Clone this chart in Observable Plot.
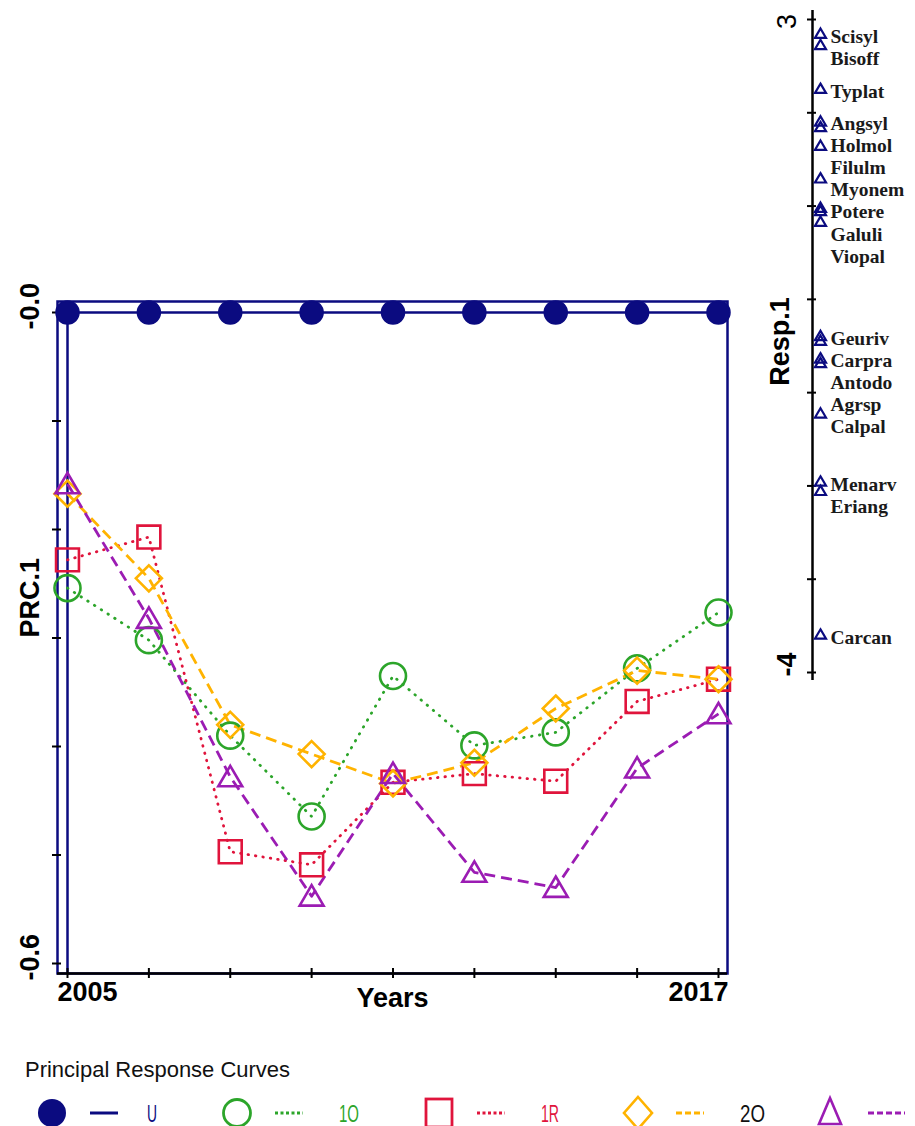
<!DOCTYPE html>
<html><head><meta charset="utf-8">
<script src="https://cdn.jsdelivr.net/npm/d3@7"></script>
<script src="https://cdn.jsdelivr.net/npm/@observablehq/plot@0.6"></script>
<style>
body{margin:0;background:#fff;}
#wrap{position:relative;width:915px;height:1126px;overflow:hidden;font-family:"Liberation Sans",Arial,sans-serif;background:#fff;}
#main{position:absolute;left:0;top:0}
#resp{position:absolute;left:740px;top:0}
#legend{position:absolute;left:0;top:1050px;width:915px;height:76px}
</style></head><body>
<div id="wrap"><div id="main"></div><div id="resp"></div><div id="legend"></div></div>
<script>
// ---------- data ----------
const years = [2005, 2006.5, 2008, 2009.5, 2011, 2012.5, 2014, 2015.5, 2017];
const seriesU  = [0, 0, 0, 0, 0, 0, 0, 0, 0];
const series1O = [-0.254, -0.302, -0.390, -0.4645, -0.335, -0.399, -0.387, -0.328, -0.2765];
const series1R = [-0.228, -0.207, -0.497, -0.509, -0.433, -0.425, -0.432, -0.3585, -0.338];
const series2O = [-0.167, -0.245, -0.380, -0.407, -0.434, -0.415, -0.365, -0.330, -0.338];
const series2R = [-0.158, -0.282, -0.428, -0.538, -0.425, -0.516, -0.530, -0.420, -0.370];
const seriesNames = ["U", "1O", "1R", "2O", "2R"];
const prcTicks = [0, -0.1, -0.2, -0.3, -0.4, -0.5, -0.6];
const prcTickLabels = ["-0.0", "-0.6"];
const yearLabels = ["2005", "2017"];

const speciesNames = ["Scisyl","Bisoff","Typlat","Angsyl","Holmol","Filulm","Myonem","Potere","Galuli","Viopal",
  "Geuriv","Carpra","Antodo","Agrsp","Calpal","Menarv","Eriang","Carcan"];
const speciesScores = [2.85, 2.73, 2.26, 1.91, 1.85, 1.65, 1.30, 0.985, 0.95, 0.835,
  -0.39, -0.44, -0.63, -0.68, -1.22, -1.95, -2.05, -3.59];
const respTicks = [3, 2, 1, 0, -1, -2, -3, -4];
const respTickLabels = ["3", "-4"];

// ---------- styles ----------
const NAVY = "#0b0b80";
const styles = {
  "U":  {color: NAVY,      dash: null,      label: NAVY},
  "1O": {color: "#2ca52a", dash: "0.5 7.5", label: "#2ca52a"},
  "1R": {color: "#e0143c", dash: "0.5 7",   label: "#e0143c"},
  "2O": {color: "#ffb300", dash: "11 6",    label: "#111"},
  "2R": {color: "#9b1cb3", dash: "11 6",    label: null}
};
const allValues = [seriesU, series1O, series1R, series2O, series2R];

function rad(size){ return Math.sqrt(size / Math.PI); }
const symCircle = {draw(ctx, size){ const r = rad(size); ctx.moveTo(r, 0); ctx.arc(0, 0, r, 0, 2*Math.PI); ctx.closePath(); }};
const symSquare = {draw(ctx, size){ const r = rad(size)*0.88; ctx.moveTo(-r,-r); ctx.lineTo(r,-r); ctx.lineTo(r,r); ctx.lineTo(-r,r); ctx.closePath(); }};
const symDiamond = {draw(ctx, size){ const r = rad(size); ctx.moveTo(0,-r); ctx.lineTo(r,0); ctx.lineTo(0,r); ctx.lineTo(-r,0); ctx.closePath(); }};
const symTriangle = {draw(ctx, size){ const r = rad(size); ctx.moveTo(0,-0.85*r); ctx.lineTo(0.92*r,0.72*r); ctx.lineTo(-0.92*r,0.72*r); ctx.closePath(); }};
const symbolsBySeries = {"U": symCircle, "1O": symCircle, "1R": symSquare, "2O": symDiamond, "2R": symTriangle};

const rows = seriesNames.map((name, k) => years.map((yr, i) => ({year: yr, value: allValues[k][i], series: name})));

const boldTxt = {fontFamily: "Liberation Sans, Arial, sans-serif", fontWeight: "bold", fontSize: 27, fill: "#000"};

const marks = [
  Plot.frame({stroke: NAVY, strokeWidth: 2.5}),
  Plot.ruleX([years[0]], {stroke: NAVY, strokeWidth: 2.5}),
  Plot.ruleY([prcTicks[prcTicks.length - 1]], {stroke: "#000", strokeWidth: 2.5, dy: 10}),
  Plot.axisY({ticks: prcTicks, tickSize: 9, dx: 4, tickFormat: () => "", label: null, stroke: "#000", strokeWidth: 2}),
  Plot.axisX({ticks: years, tickSize: 10, dy: -5, tickFormat: () => "", label: null, stroke: "#000", strokeWidth: 2}),
  Plot.text([prcTicks[0], prcTicks[prcTicks.length-1]], {y: d => d, text: (d, i) => prcTickLabels[i], frameAnchor: "left", rotate: -90, dx: -27, dy: 17, ...boldTxt}),
  Plot.text(["PRC.1"], {frameAnchor: "left", rotate: -90, dx: -27, text: d => d, ...boldTxt}),
  Plot.text([years[0]], {x: d => d, text: () => yearLabels[0], frameAnchor: "bottom", dy: 27, dx: -10, textAnchor: "start", ...boldTxt}),
  Plot.text([years[years.length-1]], {x: d => d, text: () => yearLabels[1], frameAnchor: "bottom", dy: 27, dx: 10, textAnchor: "end", ...boldTxt}),
  Plot.text(["Years"], {frameAnchor: "bottom", dy: 33, text: d => d, ...boldTxt})
];

seriesNames.forEach((name, k) => {
  const st = styles[name];
  marks.push(Plot.line(rows[k], {x: "year", y: "value", stroke: st.color, strokeWidth: name === "U" ? 2.5 : 2.8,
    strokeDasharray: st.dash, strokeLinecap: st.dash && st.dash.startsWith("0.5") ? "round" : "butt"}));
});
seriesNames.forEach((name, k) => {
  const st = styles[name];
  if (name === "U") {
    marks.push(Plot.dot(rows[k], {x: "year", y: "value", r: 11.5, fill: NAVY, stroke: NAVY}));
  } else {
    marks.push(Plot.dot(rows[k], {x: "year", y: "value", symbol: symbolsBySeries[name], r: 13, fill: "none", stroke: st.color, strokeWidth: 2.6}));
  }
});

const main = Plot.plot({
  width: 760, height: 1040,
  marginLeft: 57, marginRight: 33, marginTop: 301, marginBottom: 67,
  x: {domain: [years[0], years[years.length-1]], insetLeft: 10, insetRight: 9, axis: null},
  y: {domain: [prcTicks[prcTicks.length-1], prcTicks[0]], insetTop: 11, insetBottom: 10, axis: null},
  style: {background: "transparent", overflow: "visible"},
  marks
});
document.getElementById("main").appendChild(main);

// ---------- species axis ----------
const order = d3.range(speciesNames.length).sort((a, b) => speciesScores[b] - speciesScores[a]);
const minGap = 0.236;
const species = [];
let prev = Infinity;
for (const i of order) {
  const ly = Math.min(speciesScores[i], prev - minGap);
  prev = ly;
  species.push({name: speciesNames[i], score: speciesScores[i], labelY: ly});
}
const smallTri = {draw(ctx, size){ const r = rad(size); ctx.moveTo(0,-0.9*r); ctx.lineTo(r,0.8*r); ctx.lineTo(-r,0.8*r); ctx.closePath(); }};

const resp = Plot.plot({
  width: 175, height: 700,
  marginLeft: 72, marginRight: 0, marginTop: 10, marginBottom: 20,
  x: {domain: [0, 1], axis: null},
  y: {domain: [respTicks[respTicks.length-1], respTicks[0]], insetTop: 9, insetBottom: 8, axis: null},
  style: {background: "transparent", overflow: "visible"},
  marks: [
    Plot.ruleX([0], {stroke: "#000", strokeWidth: 2.5}),
    Plot.axisY({ticks: respTicks, tickSize: 9, dx: 4, tickFormat: () => "", label: null, stroke: "#000", strokeWidth: 2}),
    Plot.dot(species, {x: () => 0, y: "score", symbol: smallTri, r: 5.5, fill: "none", stroke: NAVY, strokeWidth: 2.2, dx: 8}),
    Plot.text(species, {x: () => 0, y: "labelY", text: "name", dx: 18, dy: 3, textAnchor: "start",
      fontFamily: "Liberation Serif, Times New Roman, serif", fontWeight: "bold", fontSize: 19.5, fill: "#1a1a1a"}),
    Plot.text([respTicks[0]], {x: () => 0, y: d => d, text: () => respTickLabels[0], rotate: -90, dx: -25, dy: 2, ...boldTxt, fontWeight: "normal"}),
    Plot.text([respTicks[respTicks.length-1]], {x: () => 0, y: d => d, text: () => respTickLabels[1], rotate: -90, dx: -25, dy: -8, ...boldTxt}),
    Plot.text(["Resp.1"], {x: () => 0, frameAnchor: "middle", text: d => d, rotate: -90, dx: -32, dy: -4, ...boldTxt})
  ]
});
document.getElementById("resp").appendChild(resp);

// ---------- legend ----------
const legendX = [52, 237, 439, 638, 830];
const lsvg = d3.select("#legend").append("svg").attr("width", 915).attr("height", 76);
lsvg.append("text").attr("x", 25).attr("y", 27).attr("font-size", 22)
  .attr("font-family", "Liberation Sans, Arial, sans-serif").attr("fill", "#111")
  .attr("textLength", 265).attr("lengthAdjust", "spacingAndGlyphs").text("Principal Response Curves");
const legendLabelW = {"U": 10, "1O": 20, "1R": 18, "2O": 25};
seriesNames.forEach((name, k) => {
  const st = styles[name];
  const cx = legendX[k], cy = 63;
  const g = lsvg.append("g");
  if (name === "U") g.append("circle").attr("cx", cx).attr("cy", cy).attr("r", 14).attr("fill", NAVY);
  else if (name === "1O") g.append("circle").attr("cx", cx).attr("cy", cy).attr("r", 13.5).attr("fill", "none").attr("stroke", st.color).attr("stroke-width", 2.8);
  else if (name === "1R") g.append("rect").attr("x", cx-13).attr("y", cy-14).attr("width", 26).attr("height", 28).attr("fill", "none").attr("stroke", st.color).attr("stroke-width", 2.8);
  else if (name === "2O") g.append("path").attr("d", `M${cx},${cy-16}L${cx+14},${cy}L${cx},${cy+16}L${cx-14},${cy}Z`).attr("fill", "none").attr("stroke", st.color).attr("stroke-width", 2.6);
  else g.append("path").attr("d", `M${cx},${cy-15}L${cx+11},${cy+11}L${cx-11},${cy+11}Z`).attr("fill", "none").attr("stroke", st.color).attr("stroke-width", 2.6);
  const x1 = cx + 38, x2 = cx + (name === "2R" ? 75 : 66);
  g.append("line").attr("x1", x1).attr("x2", x2).attr("y1", cy).attr("y2", cy).attr("stroke", st.color)
    .attr("stroke-width", 3).attr("stroke-dasharray", st.dash ? (st.dash.startsWith("0.5") ? "3 2.5" : "6 3") : null);
  if (st.label) {
    g.append("text").attr("x", name === "U" ? cx + 95 : cx + 102).attr("y", cy + 9).attr("font-size", 23)
      .attr("font-family", "Liberation Sans, Arial, sans-serif").attr("fill", st.label)
      .attr("textLength", legendLabelW[name]).attr("lengthAdjust", "spacingAndGlyphs").text(name);
  }
});
</script>
</body></html>
